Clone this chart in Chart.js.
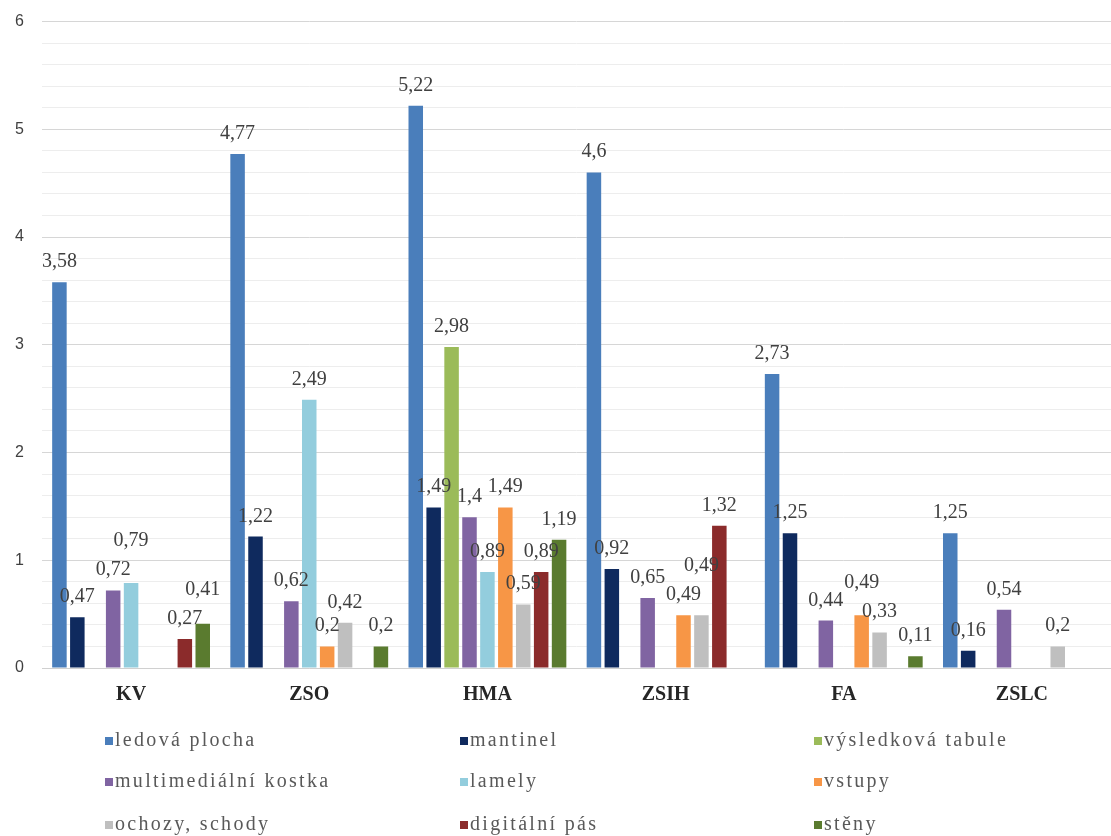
<!DOCTYPE html>
<html>
<head>
<meta charset="utf-8">
<script src="https://cdn.jsdelivr.net/npm/chart.js@4.4.1/dist/chart.umd.min.js"></script>
<style>
  html, body { margin: 0; padding: 0; background: #ffffff; overflow: hidden; }
  #wrap { position: relative; width: 1111px; height: 836px; overflow: hidden; }
  #c { position: absolute; left: 0; top: -6px; }
  .lg { position: absolute; height: 20px; line-height: 20px; white-space: nowrap;
        font-family: "Liberation Serif", "Times New Roman", serif; font-size: 20px;
        letter-spacing: 2.3px; color: #595959; }
  .lg i { position: absolute; left: 0; top: 8px; width: 8px; height: 8px; }
  .lg span { position: absolute; left: 10px; top: 0; }
</style>
</head>
<body>
<div id="wrap">
  <canvas id="c" width="1111" height="842"></canvas>
</div>
<script>
// ---- data ----
const categories = ['KV', 'ZSO', 'HMA', 'ZSIH', 'FA', 'ZSLC'];
const seriesNames = ['ledová plocha', 'mantinel', 'výsledková tabule',
  'multimediální kostka', 'lamely', 'vstupy',
  'ochozy, schody', 'digitální pás', 'stěny'];
const ledovaPlocha    = [3.58, 4.77, 5.22, 4.6, 2.73, 1.25];
const mantinel        = [0.47, 1.22, 1.49, 0.92, 1.25, 0.16];
const vysledkovaTab   = [null, null, 2.98, null, null, null];
const multimedialni   = [0.72, 0.62, 1.4, 0.65, 0.44, 0.54];
const lamely          = [0.79, 2.49, 0.89, null, null, null];
const vstupy          = [null, 0.2, 1.49, 0.49, 0.49, null];
const ochozySchody    = [null, 0.42, 0.59, 0.49, 0.33, 0.2];
const digitalniPas    = [0.27, null, 0.89, 1.32, null, null];
const steny           = [0.41, 0.2, 1.19, null, 0.11, null];
const yTickLabels     = [0, 1, 2, 3, 4, 5, 6];

const seriesValues = [ledovaPlocha, mantinel, vysledkovaTab, multimedialni,
  lamely, vstupy, ochozySchody, digitalniPas, steny];
const seriesColors = ['#4A7EBB', '#0F2A5E', '#9BBB59', '#8064A2', '#93CDDD',
  '#F79646', '#BFBFBF', '#8B2B2B', '#5A7B2F'];

const fmt = v => String(v).replace('.', ',');

// ---- data label plugin with simple overlap avoidance ----
const labelPlugin = {
  id: 'barLabels',
  afterDatasetsDraw(chart) {
    const ctx = chart.ctx;
    ctx.save();
    ctx.font = '20px "Liberation Serif", "Times New Roman", serif';
    ctx.fillStyle = '#404040';
    ctx.textAlign = 'center';
    ctx.textBaseline = 'alphabetic';
    categories.forEach((cat, i) => {
      const items = [];
      chart.data.datasets.forEach((ds, d) => {
        const v = ds.data[i];
        if (v === null || v === undefined) return;
        const el = chart.getDatasetMeta(d).data[i];
        const text = fmt(v);
        items.push({ v, d, x: el.x, top: el.y, text, w: ctx.measureText(text).width });
      });
      items.sort((a, b) => a.v - b.v || a.d - b.d);
      const placed = [];
      items.forEach(it => {
        let base = it.top - 15;
        let moved = true, guard = 0;
        while (moved && guard++ < 20) {
          moved = false;
          const l = it.x - it.w / 2, r = it.x + it.w / 2;
          for (const p of placed) {
            if (l < p.r && r > p.l && base - 20 < p.base && base > p.base - 20) {
              base = p.base - 29;
              moved = true;
              break;
            }
          }
        }
        placed.push({ l: it.x - it.w / 2, r: it.x + it.w / 2, base });
        ctx.fillText(it.text, it.x, base);
      });
    });
    ctx.restore();
  }
};

const isInt = v => Math.abs(v - Math.round(v)) < 1e-6;

const chart = new Chart(document.getElementById('c'), {
  type: 'bar',
  data: {
    labels: categories,
    datasets: seriesNames.map((name, k) => ({
      label: name,
      data: seriesValues[k],
      backgroundColor: seriesColors[k],
      borderWidth: 0,
      categoryPercentage: 0.905,
      barPercentage: 0.81
    }))
  },
  options: {
    responsive: false,
    animation: false,
    layout: { padding: { top: 12, right: 0, left: 0, bottom: 118 } },
    plugins: { legend: { display: false }, tooltip: { enabled: false } },
    scales: {
      x: {
        grid: { display: false, drawTicks: false },
        border: { display: true, color: '#d0d0d0', width: 1 },
        ticks: {
          padding: 15,
          color: '#262626',
          font: { family: '"Liberation Serif", "Times New Roman", serif', size: 20, weight: 'bold' }
        },
        afterFit(s) { s.height = 50; }
      },
      y: {
        min: 0,
        max: 6,
        grid: {
          drawTicks: false,
          color: c => (isInt(c.tick.value) ? '#d6d6d6' : '#ededed'),
          lineWidth: 1
        },
        border: { display: false },
        ticks: {
          stepSize: 0.2,
          autoSkip: false,
          maxTicksLimit: 100,
          padding: 18,
          color: '#404040',
          font: { family: '"Liberation Sans", Arial, sans-serif', size: 16 },
          callback: v => (isInt(v) && yTickLabels.includes(Math.round(v)) ? String(Math.round(v)) : '')
        },
        afterFit(s) { s.width = 42; }
      }
    }
  },
  plugins: [labelPlugin]
});

// ---- legend (3 columns x 3 rows) ----
const wrap = document.getElementById('wrap');
const colLeft = [105, 460, 814];
const rowTop = [729, 770, 813];
seriesNames.forEach((name, k) => {
  const div = document.createElement('div');
  div.className = 'lg';
  div.style.left = colLeft[k % 3] + 'px';
  div.style.top = rowTop[Math.floor(k / 3)] + 'px';
  const m = document.createElement('i');
  m.style.background = seriesColors[k];
  const t = document.createElement('span');
  t.textContent = name;
  div.appendChild(m);
  div.appendChild(t);
  wrap.appendChild(div);
});
</script>
</body>
</html>
